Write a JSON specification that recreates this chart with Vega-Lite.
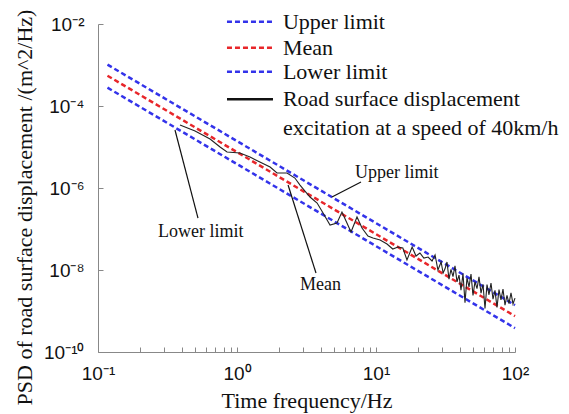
{
  "$schema": "https://vega.github.io/schema/vega-lite/v6.json",
  "width": 417,
  "height": 328,
  "autosize": {"type": "none"},
  "padding": {"left": 98, "top": 24, "right": 54, "bottom": 62},
  "background": "white",
  "config": {"view": {"stroke": null}, "font": "Liberation Serif"},
  "datasets": {
    "lines": [
      {"series": "Upper limit", "f": 0.117, "psd": 1.02e-3},
      {"series": "Upper limit", "f": 100, "psd": 1.39e-9},
      {"series": "Mean", "f": 0.117, "psd": 5.48e-4},
      {"series": "Mean", "f": 100, "psd": 7.5e-10},
      {"series": "Lower limit", "f": 0.117, "psd": 2.8e-4},
      {"series": "Lower limit", "f": 100, "psd": 3.83e-10}
    ],
    "road": [
      {"f": 0.389, "psd": 3.44e-5}, {"f": 0.499, "psd": 2.46e-5}, {"f": 0.640, "psd": 1.57e-5},
      {"f": 0.755, "psd": 1.0e-5}, {"f": 0.848, "psd": 7.55e-6}, {"f": 1.05, "psd": 7.14e-6},
      {"f": 1.24, "psd": 5.71e-6}, {"f": 1.46, "psd": 4.31e-6}, {"f": 1.73, "psd": 3.25e-6},
      {"f": 1.94, "psd": 2.32e-6}, {"f": 2.29, "psd": 2.32e-6}, {"f": 2.61, "psd": 1.75e-6},
      {"f": 2.84, "psd": 1.18e-6}, {"f": 3.35, "psd": 6.03e-7}, {"f": 3.77, "psd": 4.31e-7},
      {"f": 4.16, "psd": 2.45e-7}, {"f": 4.67, "psd": 1.25e-7}, {"f": 5.24, "psd": 1.40e-7},
      {"f": 5.69, "psd": 2.60e-7}, {"f": 6.18, "psd": 1.40e-7}, {"f": 6.61, "psd": 8.45e-8},
      {"f": 7.30, "psd": 1.96e-7}, {"f": 7.93, "psd": 1.06e-7}, {"f": 8.75, "psd": 6.75e-8},
      {"f": 9.51, "psd": 6.03e-8}, {"f": 10.7, "psd": 5.39e-8}, {"f": 12.0, "psd": 4.31e-8},
      {"f": 13.2, "psd": 3.25e-8}, {"f": 14.4, "psd": 3.64e-8}, {"f": 15.6, "psd": 3.44e-8},
      {"f": 16.7, "psd": 1.75e-8}, {"f": 18.2, "psd": 3.64e-8}, {"f": 19.4, "psd": 2.19e-8},
      {"f": 20.7, "psd": 2.60e-8}, {"f": 22.1, "psd": 1.96e-8}, {"f": 23.7, "psd": 2.07e-8},
      {"f": 25.3, "psd": 1.66e-8}, {"f": 26.6, "psd": 2.32e-8}, {"f": 27.9, "psd": 1.0e-8},
      {"f": 29.4, "psd": 1.57e-8}, {"f": 30.4, "psd": 8.45e-9},
      {"f": 31.36, "psd": 1.068e-8}, {"f": 32.42, "psd": 1.566e-8}, {"f": 33.51, "psd": 5.971e-9},
      {"f": 34.63, "psd": 1.037e-8}, {"f": 35.81, "psd": 6.926e-9}, {"f": 37.01, "psd": 1.271e-8},
      {"f": 38.26, "psd": 5.123e-9}, {"f": 39.55, "psd": 7.514e-9}, {"f": 40.88, "psd": 3.204e-9},
      {"f": 42.26, "psd": 8.238e-9}, {"f": 43.68, "psd": 1.600e-9}, {"f": 45.15, "psd": 6.451e-9},
      {"f": 46.68, "psd": 3.852e-9}, {"f": 48.25, "psd": 7.913e-9}, {"f": 49.87, "psd": 2.410e-9},
      {"f": 51.55, "psd": 5.234e-9}, {"f": 53.29, "psd": 3.497e-9}, {"f": 55.08, "psd": 6.793e-9},
      {"f": 56.94, "psd": 2.739e-9}, {"f": 58.86, "psd": 4.492e-9}, {"f": 60.84, "psd": 1.155e-9},
      {"f": 62.89, "psd": 4.403e-9}, {"f": 65.00, "psd": 2.487e-9}, {"f": 67.19, "psd": 4.827e-9},
      {"f": 69.45, "psd": 1.947e-9}, {"f": 71.79, "psd": 3.194e-9}, {"f": 74.21, "psd": 1.218e-9},
      {"f": 76.71, "psd": 3.312e-9}, {"f": 79.29, "psd": 1.869e-9}, {"f": 81.96, "psd": 3.434e-9},
      {"f": 84.72, "psd": 1.384e-9}, {"f": 87.58, "psd": 2.401e-9}, {"f": 90.53, "psd": 1.517e-9},
      {"f": 93.58, "psd": 2.785e-9}, {"f": 96.74, "psd": 1.486e-9}, {"f": 100, "psd": 2.061e-9}
    ],
    "legendLines": [
      {"series": "Upper limit", "f": 0.847, "f2": 1.815, "psd": 1.14e-2},
      {"series": "Mean", "f": 0.847, "f2": 1.815, "psd": 2.64e-3},
      {"series": "Lower limit", "f": 0.847, "f2": 1.815, "psd": 6.87e-4},
      {"series": "Road", "f": 0.847, "f2": 1.815, "psd": 1.46e-4}
    ],
    "legendText": [
      {"f": 2.14, "psd": 1.14e-2, "label": "Upper limit"},
      {"f": 2.14, "psd": 2.64e-3, "label": "Mean"},
      {"f": 2.14, "psd": 6.87e-4, "label": "Lower limit"},
      {"f": 2.14, "psd": 1.46e-4, "label": "Road surface displacement"},
      {"f": 2.14, "psd": 2.90e-5, "label": "excitation at a speed of 40km/h"}
    ],
    "leaders": [
      {"f": 4.82, "psd": 6.03e-7, "f2": 7.80, "psd2": 1.40e-6},
      {"f": 0.358, "psd": 2.60e-5, "f2": 0.524, "psd2": 1.85e-7},
      {"f": 2.33, "psd": 1.18e-6, "f2": 3.70, "psd2": 8.45e-9}
    ],
    "notes": [
      {"f": 7.06, "psd": 2.32e-6, "label": "Upper limit"},
      {"f": 0.270, "psd": 8.45e-8, "label": "Lower limit"},
      {"f": 2.84, "psd": 4.31e-9, "label": "Mean"}
    ]
  },
  "encoding": {
    "x": {
      "field": "f", "type": "quantitative",
      "scale": {"type": "log", "domain": [0.1, 100]},
      "axis": {
        "title": "Time frequency/Hz",
        "titleFont": "Liberation Serif", "titleFontSize": 22, "titleFontWeight": "normal", "titleColor": "#111",
        "titleY": 48, "titleBaseline": "middle",
        "values": [0.1, 0.2, 0.3, 0.4, 0.5, 0.6, 0.7, 0.8, 0.9, 1, 2, 3, 4, 5, 6, 7, 8, 9, 10, 20, 30, 40, 50, 60, 70, 80, 90, 100],
        "labelExpr": "datum.value == 0.1 ? '10⁻¹' : datum.value == 1 ? '10⁰' : datum.value == 10 ? '10¹' : datum.value == 100 ? '10²' : ''",
        "labelFont": "Liberation Sans", "labelFontSize": 19, "labelColor": "#111",
        "labelPadding": 17, "labelFlush": false, "labelOverlap": false, "labelBound": false,
        "domainColor": "#888", "tickColor": "#888", "tickSize": -5, "grid": false
      }
    },
    "y": {
      "field": "psd", "type": "quantitative",
      "scale": {"type": "log", "domain": [1e-10, 1e-2]},
      "axis": {
        "title": "PSD of road surface displacement /(m^2/Hz)",
        "titleFont": "Liberation Serif", "titleFontSize": 22, "titleFontWeight": "normal", "titleColor": "#111",
        "titleX": -74, "titleY": 183, "titleBaseline": "middle", "titleAlign": "center", "titleAngle": -90,
        "values": [1e-10, 1e-8, 1e-6, 1e-4, 1e-2],
        "labelExpr": "round(log(datum.value)/LN10) == -2 ? '10⁻²' : round(log(datum.value)/LN10) == -4 ? '10⁻⁴' : round(log(datum.value)/LN10) == -6 ? '10⁻⁶' : round(log(datum.value)/LN10) == -8 ? '10⁻⁸' : '10⁻¹⁰'",
        "labelFont": "Liberation Sans", "labelFontSize": 19, "labelColor": "#111",
        "labelPadding": 19, "labelFlush": false, "labelOverlap": false,
        "domainColor": "#888", "tickColor": "#888", "tickSize": -5, "grid": false
      }
    }
  },
  "layer": [
    {
      "data": {"name": "lines"},
      "mark": {"type": "line", "strokeWidth": 2.5, "strokeDash": [5, 3]},
      "encoding": {
        "color": {"field": "series", "type": "nominal",
          "scale": {"domain": ["Upper limit", "Mean", "Lower limit", "Road"], "range": ["#3333ea", "#e8262a", "#3333ea", "#111111"]},
          "legend": null},
        "detail": {"field": "series"}
      }
    },
    {
      "data": {"name": "road"},
      "mark": {"type": "line", "strokeWidth": 1.1, "color": "#222222"},
      "encoding": {}
    },
    {
      "data": {"name": "legendLines"},
      "mark": {"type": "rule", "strokeWidth": 2.5},
      "encoding": {
        "x2": {"field": "f2"},
        "color": {"field": "series", "type": "nominal", "legend": null},
        "strokeDash": {"condition": {"test": "datum.series == 'Road'", "value": [1, 0]}, "value": [5, 3]}
      }
    },
    {
      "data": {"name": "legendText"},
      "mark": {"type": "text", "align": "left", "baseline": "middle", "font": "Liberation Serif", "fontSize": 22, "color": "#111"},
      "encoding": {"text": {"field": "label"}}
    },
    {
      "data": {"name": "leaders"},
      "mark": {"type": "rule", "strokeWidth": 1.2, "color": "#111"},
      "encoding": {"x2": {"field": "f2"}, "y2": {"field": "psd2"}}
    },
    {
      "data": {"name": "notes"},
      "mark": {"type": "text", "align": "left", "baseline": "middle", "font": "Liberation Serif", "fontSize": 18, "color": "#111"},
      "encoding": {"text": {"field": "label"}}
    }
  ]
}
